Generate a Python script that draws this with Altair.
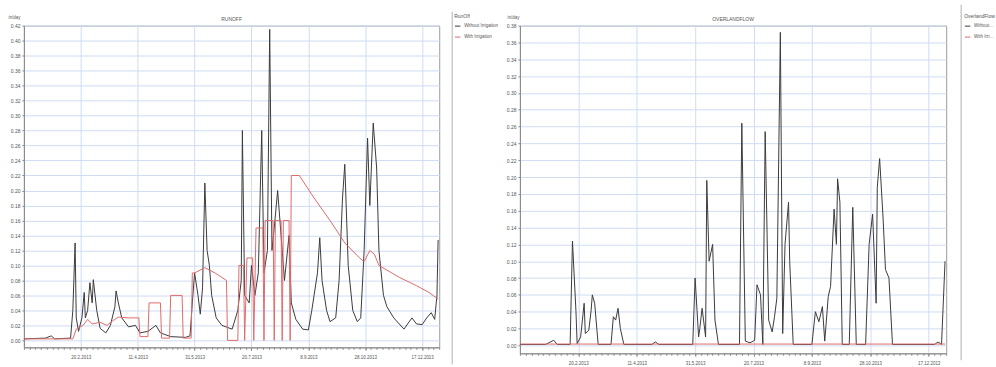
import altair as alt
import pandas as pd

# ---------------- data ----------------
series_names = ["Without Irrigation", "With Irrigation"]
series_colors = ["#3a3a3a", "#e06a6a"]

# RUNOFF, without irrigation: day of year, in/day
run_dry_day = [0, 19, 24, 27, 41, 43, 45, 46, 48, 51, 53, 54, 56, 58, 60, 61, 64, 67, 72, 76,
               80, 81, 83, 86, 92, 98, 102, 109, 116, 120, 129, 142, 146, 148, 150, 153, 155,
               157, 159, 161, 163, 165, 169, 174, 183, 188, 191, 192, 194, 198, 200, 203, 206,
               209, 211, 214, 216, 218, 220, 223, 226, 229, 233, 235, 239, 245, 250, 253, 255,
               258, 260, 262, 266, 269, 274, 277, 280, 282, 285, 289, 293, 296, 299, 302, 304,
               307, 310, 312, 316, 319, 325, 334, 341, 345, 350, 354, 358, 361, 363, 364]
run_dry_val = [0.002, 0.003, 0.006, 0.002, 0.003, 0.04, 0.13, 0.03, 0.012, 0.03, 0.064, 0.03,
               0.04, 0.077, 0.05, 0.081, 0.04, 0.016, 0.01, 0.02, 0.045, 0.066, 0.05, 0.03, 0.018,
               0.02, 0.01, 0.012, 0.02, 0.01, 0.005, 0.004, 0.006, 0.05, 0.09, 0.06, 0.035, 0.07,
               0.21, 0.12, 0.10, 0.06, 0.03, 0.02, 0.015, 0.04, 0.08, 0.28, 0.06, 0.05, 0.10, 0.06,
               0.09, 0.28, 0.09, 0.12, 0.415, 0.12, 0.15, 0.20, 0.14, 0.08, 0.14, 0.05, 0.028,
               0.015, 0.014, 0.04, 0.06, 0.09, 0.137, 0.08, 0.04, 0.025, 0.03, 0.08, 0.19, 0.235,
               0.10, 0.04, 0.025, 0.03, 0.12, 0.27, 0.18, 0.29, 0.23, 0.12, 0.06, 0.045, 0.03,
               0.015, 0.03, 0.022, 0.021, 0.03, 0.037, 0.028, 0.06, 0.134]

# RUNOFF, with irrigation
run_wet_day = [0, 43, 46, 52, 56, 60, 67, 73, 78, 83, 92, 101, 102, 109, 110, 120, 121, 128, 129,
               139, 140, 147, 148, 150, 159, 168, 178, 179, 188, 189, 193, 194, 196, 201, 202, 204,
               210, 211, 212, 219, 220, 221, 226, 227, 228, 233, 234, 235, 242, 255, 269, 282,
               295, 299, 304, 308, 312, 330, 345, 356, 364]
run_wet_val = [0.002, 0.002, 0.015, 0.02, 0.028, 0.022, 0.024, 0.02, 0.026, 0.031, 0.03, 0.03,
               0.005, 0.005, 0.05, 0.05, 0.003, 0.003, 0.06, 0.06, 0.003, 0.003, 0.09, 0.09,
               0.097, 0.09, 0.08, 0.0, 0.0, 0.10, 0.10, 0.0, 0.11, 0.11, 0.0, 0.15, 0.15, 0.0,
               0.16, 0.16, 0.0, 0.16, 0.16, 0.0, 0.16, 0.16, 0.0, 0.22, 0.22, 0.19, 0.16, 0.13,
               0.11, 0.105, 0.12, 0.115, 0.10, 0.084, 0.073, 0.064, 0.055]

# OVERLANDFLOW, without irrigation
ov_dry_day = [0, 22, 26, 29, 32, 43, 45, 48, 49, 52, 55, 56, 59, 61, 62, 64, 67, 78, 80, 82, 84,
              86, 89, 113, 116, 119, 148, 150, 153, 154, 156, 159, 160, 162, 165, 167, 170, 188,
              190, 193, 197, 201, 203, 206, 208, 210, 213, 216, 218, 220, 223, 225, 227, 230,
              231, 234, 250, 253, 256, 259, 261, 264, 266, 269, 271, 272, 274, 276, 282, 285,
              288, 296, 299, 302, 305, 306, 308, 311, 313, 316, 319, 355, 358, 361, 364]
ov_dry_val = [0.001, 0.001, 0.004, 0.006, 0.001, 0.001, 0.124, 0.04, 0.002, 0.01, 0.05, 0.014,
              0.018, 0.042, 0.06, 0.05, 0.001, 0.001, 0.034, 0.03, 0.044, 0.02, 0.001, 0.001,
              0.004, 0.001, 0.001, 0.08, 0.01, 0.02, 0.044, 0.01, 0.196, 0.10, 0.12, 0.03, 0.001,
              0.001, 0.264, 0.005, 0.003, 0.006, 0.072, 0.06, 0.001, 0.254, 0.03, 0.016, 0.034,
              0.056, 0.372, 0.014, 0.12, 0.17, 0.10, 0.001, 0.001, 0.04, 0.028, 0.046, 0.005,
              0.058, 0.07, 0.162, 0.12, 0.198, 0.17, 0.001, 0.001, 0.164, 0.001, 0.001, 0.12,
              0.156, 0.05, 0.188, 0.222, 0.15, 0.09, 0.08, 0.001, 0.001, 0.004, 0.001, 0.10]

# OVERLANDFLOW, with irrigation (flat)
ov_wet_day = [0, 364]
ov_wet_val = [0.0015, 0.0015]

left_ticks = [0.00, 0.02, 0.04, 0.06, 0.08, 0.10, 0.12, 0.14, 0.16, 0.18, 0.20, 0.22, 0.24,
              0.26, 0.28, 0.30, 0.32, 0.34, 0.36, 0.38, 0.40, 0.42]
right_ticks = [0.00, 0.02, 0.04, 0.06, 0.08, 0.10, 0.12, 0.14, 0.16, 0.18, 0.20, 0.22, 0.24,
               0.26, 0.28, 0.30, 0.32, 0.34, 0.36, 0.38]
date_ticks = [(2, 20), (4, 11), (5, 31), (7, 20), (9, 8), (10, 28), (12, 17)]

# ---------------- build tables ----------------
start = pd.Timestamp("2013-01-01")


def table(days, vals, name):
    return pd.DataFrame({
        "date": [start + pd.Timedelta(days=d) for d in days],
        "value": vals,
        "series": name,
    })


run_df = pd.concat([table(run_dry_day, run_dry_val, series_names[0]),
                    table(run_wet_day, run_wet_val, series_names[1])])
ov_df = pd.concat([table(ov_dry_day, ov_dry_val, series_names[0]),
                   table(ov_wet_day, ov_wet_val, series_names[1])])

minor_dates = [alt.DateTime(year=d.year, month=d.month, date=d.day)
               for d in pd.date_range("2013-01-01", "2014-01-01", freq="5D")]

FONT = "Liberation Sans"
GRID = "#cfdcf2"
TXT = "#555555"
AX = "#8a8a8a"
X_DOMAIN = [alt.DateTime(year=2013, month=1, date=1), alt.DateTime(year=2014, month=1, date=1)]


def panel(df, title, legend_title, ticks, ymax, ymin, W, H, leg_dx, sep_dx, sep_top, sep_bot,
          label_limit, title_x):
    x_enc = alt.X(
        "date:T",
        scale=alt.Scale(domain=X_DOMAIN),
        axis=alt.Axis(values=[alt.DateTime(year=2013, month=m, date=d) for m, d in date_ticks],
                      format="%-d.%-m.%Y", title=None, labelFontSize=4.5, labelColor=TXT,
                      labelFont=FONT, tickSize=3, labelPadding=4, gridColor=GRID,
                      domainColor=AX, tickColor=AX, labelFlush=False, orient="bottom"),
    )
    y_enc = alt.Y(
        "value:Q",
        scale=alt.Scale(domain=[ymin, ymax], nice=False, zero=False),
        axis=alt.Axis(values=ticks, format=".2f", title="in/day", titleAngle=0,
                      titleX=title_x, titleY=-6, titleAlign="left", titleBaseline="bottom",
                      titleFontSize=4.5, titleFont=FONT, titleColor=TXT, titleFontWeight="normal",
                      labelFontSize=5, labelColor=TXT, labelFont=FONT, tickSize=2,
                      labelPadding=2, gridColor=GRID, domainColor=AX, tickColor=AX),
    )
    lines = alt.Chart(df).mark_line(strokeWidth=1, interpolate="linear").encode(
        x=x_enc,
        y=y_enc,
        color=alt.Color(
            "series:N",
            scale=alt.Scale(domain=series_names, range=series_colors),
            legend=alt.Legend(title=legend_title, orient="none", legendX=W + leg_dx,
                              legendY=-12, symbolType="stroke", symbolSize=30,
                              symbolStrokeWidth=1, labelFontSize=4.5, titleFontSize=5,
                              labelFont=FONT, titleFont=FONT, labelColor=TXT,
                              titleColor=TXT, titleFontWeight="normal", rowPadding=5,
                              titlePadding=4, labelLimit=label_limit, labelOffset=3),
        ),
    )
    minor = alt.Chart(df).mark_point(opacity=0).encode(
        x=alt.X("date:T", scale=alt.Scale(domain=X_DOMAIN),
                axis=alt.Axis(values=minor_dates, labels=False, grid=False, domain=False,
                              ticks=True, tickSize=2, tickColor=AX, title=None,
                              orient="bottom")),
    )
    one = pd.DataFrame({"k": [0]})
    sep = alt.Chart(one).mark_rule(color="#b0b0b0", strokeWidth=1).encode(
        x=alt.value(W + sep_dx), y=alt.value(sep_top), y2=alt.value(H + sep_bot)
    )
    head = alt.Chart(one).mark_text(fontSize=5, font=FONT, color=TXT, baseline="middle",
                                    align="center").encode(
        x=alt.value(W / 2), y=alt.value(-7), text=alt.value(title)
    )
    return alt.layer(lines, minor, sep, head).resolve_axis(x="independent").properties(
        width=W, height=H,
    )


left = panel(run_df, "RUNOFF", "RunOff", left_ticks, 0.42, -0.0093, 417, 323,
             15, 13, -14, 17, 60, -16)
right = panel(ov_df, "OVERLANDFLOW", "OverlandFlow", right_ticks, 0.38, -0.0095, 428, 329,
              18, 15, -21, 7, 20, -13)

chart = alt.hconcat(left, right, spacing=5).resolve_scale(
    color="independent", x="independent", y="independent"
).properties(
    padding={"left": 7, "top": 3, "right": 0, "bottom": 0},
    background="white",
).configure_view(
    stroke="#9a9a9a", strokeWidth=1
).configure_axis(
    gridWidth=1
)

chart.save("out.html", embed_options={"renderer": "svg", "actions": False})
